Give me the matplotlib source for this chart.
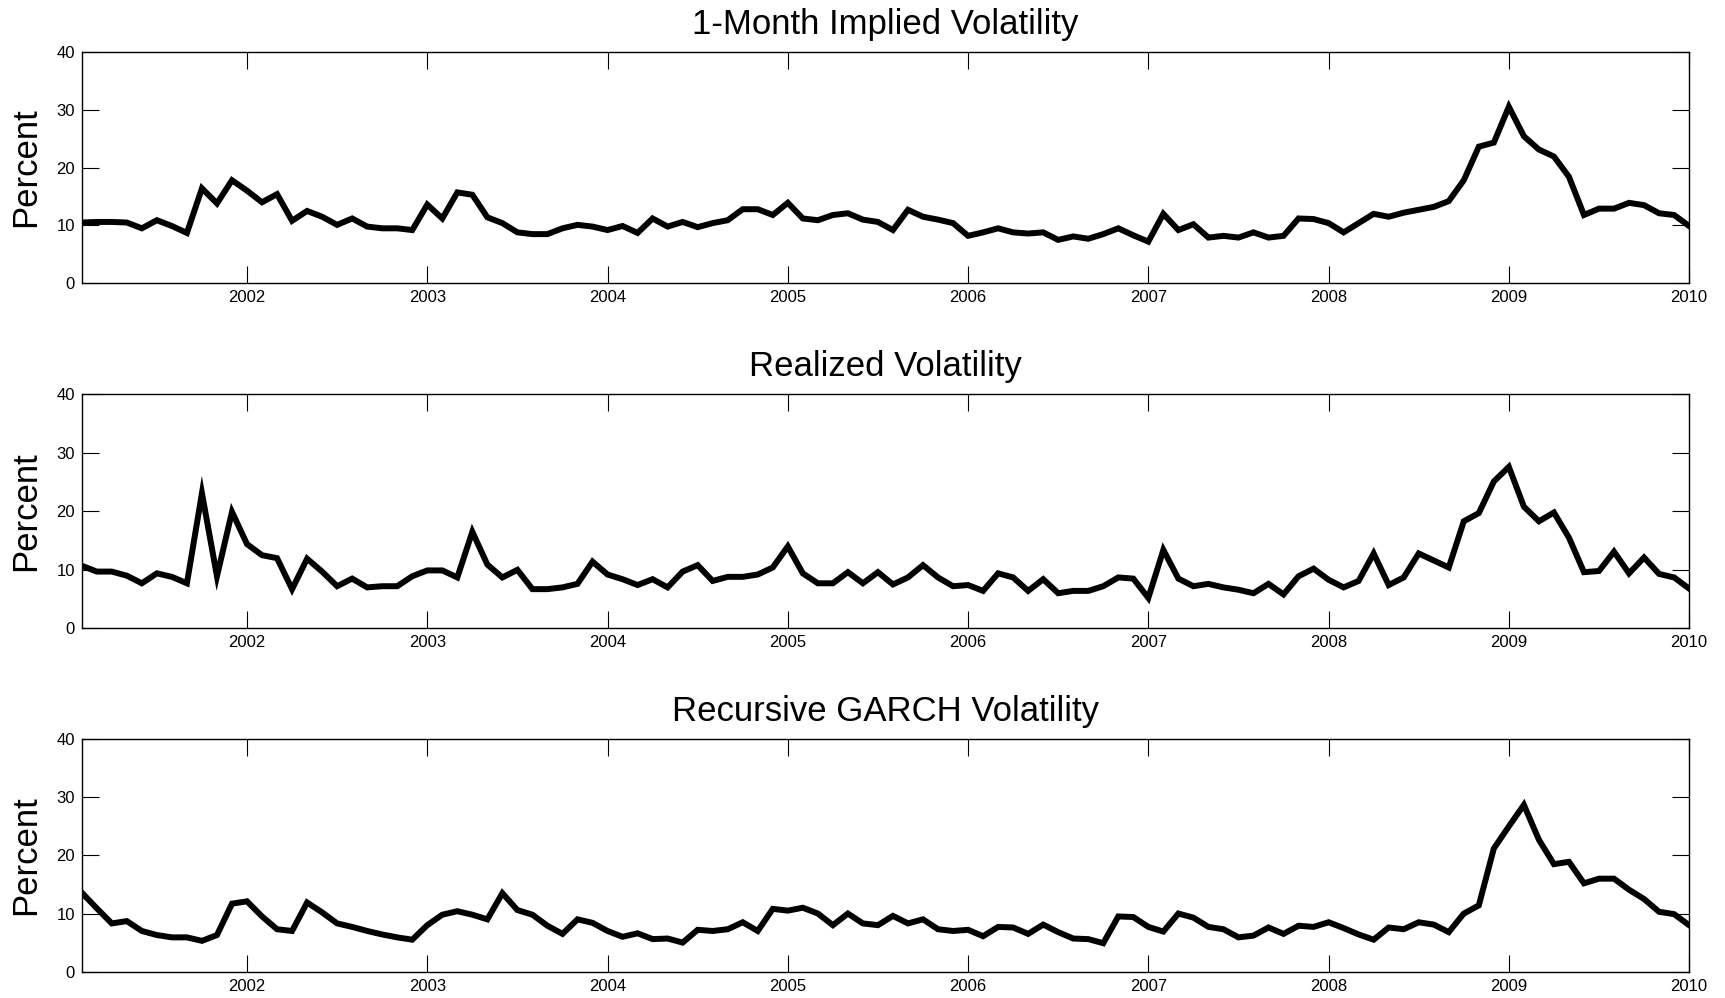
import numpy as np
import matplotlib.pyplot as plt

plt.rcParams['font.family'] = ['Liberation Sans', 'DejaVu Sans']

# monthly observations, Feb 2001 .. Jan 2010
dates = 2001 + np.arange(1, 109) / 12.0

implied = [10.5, 10.6, 10.6, 10.5, 9.5, 10.9, 9.9, 8.7, 16.4, 13.8,
           17.8, 16.0, 14.0, 15.4, 10.8, 12.5, 11.5, 10.1, 11.2, 9.8,
           9.5, 9.5, 9.2, 13.6, 11.2, 15.7, 15.3, 11.4, 10.4, 8.8,
           8.5, 8.5, 9.5, 10.1, 9.8, 9.2, 9.9, 8.7, 11.2, 9.8,
           10.6, 9.7, 10.4, 10.9, 12.8, 12.8, 11.8, 13.9, 11.2, 10.9,
           11.8, 12.1, 11.0, 10.6, 9.2, 12.7, 11.5, 11.0, 10.4, 8.2,
           8.8, 9.5, 8.8, 8.6, 8.8, 7.5, 8.1, 7.7, 8.5, 9.5,
           8.3, 7.2, 12.0, 9.2, 10.2, 7.9, 8.2, 7.9, 8.8, 7.9,
           8.2, 11.2, 11.1, 10.4, 8.8, 10.4, 12.0, 11.5, 12.2, 12.7,
           13.2, 14.2, 17.8, 23.6, 24.3, 30.5, 25.4, 23.1, 21.9, 18.4,
           11.8, 12.9, 12.9, 13.9, 13.5, 12.1, 11.8, 9.9]

realized = [10.7, 9.7, 9.7, 9.0, 7.7, 9.4, 8.8, 7.7, 23.1, 8.9,
            19.9, 14.4, 12.5, 12.0, 6.7, 11.9, 9.7, 7.2, 8.5, 7.0,
            7.2, 7.2, 8.9, 9.9, 9.9, 8.7, 16.5, 10.9, 8.7, 10.0,
            6.7, 6.7, 7.0, 7.6, 11.4, 9.2, 8.4, 7.4, 8.4, 7.0,
            9.7, 10.8, 8.1, 8.8, 8.8, 9.2, 10.4, 14.0, 9.4, 7.7,
            7.7, 9.6, 7.7, 9.6, 7.5, 8.7, 10.8, 8.7, 7.2, 7.4,
            6.4, 9.4, 8.7, 6.4, 8.4, 6.0, 6.4, 6.4, 7.2, 8.7,
            8.5, 5.2, 13.4, 8.5, 7.2, 7.6, 7.0, 6.6, 6.0, 7.6,
            5.8, 8.9, 10.2, 8.3, 7.0, 8.1, 12.8, 7.4, 8.7, 12.8,
            11.6, 10.4, 18.3, 19.7, 25.1, 27.6, 20.8, 18.3, 19.8, 15.5,
            9.6, 9.8, 13.1, 9.4, 12.1, 9.3, 8.7, 6.8]

garch = [13.6, 10.9, 8.3, 8.7, 7.0, 6.3, 5.9, 5.9, 5.3, 6.3,
         11.7, 12.1, 9.5, 7.3, 7.0, 11.9, 10.2, 8.3, 7.7, 7.0,
         6.4, 5.9, 5.5, 8.0, 9.8, 10.4, 9.8, 9.0, 13.5, 10.6,
         9.8, 7.9, 6.5, 9.0, 8.4, 7.0, 6.0, 6.6, 5.6, 5.7,
         5.0, 7.2, 7.0, 7.3, 8.5, 7.0, 10.8, 10.5, 11.0, 10.0,
         8.0, 10.0, 8.3, 8.0, 9.6, 8.3, 9.0, 7.3, 7.0, 7.2,
         6.1, 7.7, 7.6, 6.5, 8.1, 6.8, 5.7, 5.6, 4.9, 9.5,
         9.4, 7.7, 6.9, 10.0, 9.3, 7.7, 7.3, 5.9, 6.2, 7.6,
         6.5, 7.9, 7.7, 8.5, 7.5, 6.4, 5.5, 7.6, 7.3, 8.5,
         8.1, 6.8, 10.0, 11.4, 21.2, 25.0, 28.7, 22.7, 18.5, 18.9,
         15.2, 16.0, 16.0, 14.1, 12.5, 10.3, 9.9, 8.0]

titles = ['1-Month Implied Volatility', 'Realized Volatility',
          'Recursive GARCH Volatility']
series = [implied, realized, garch]
years = list(range(2002, 2011))

fig = plt.figure(figsize=(17.25, 9.98), dpi=100)
boxes = [[0.0474, 0.7161, 0.9318, 0.2321],
         [0.0474, 0.3704, 0.9318, 0.2345],
         [0.0474, 0.0264, 0.9318, 0.2329]]

for box, t, s in zip(boxes, titles, series):
    ax = fig.add_axes(box)
    ax.plot(dates, s, color='black', lw=4.3, solid_joinstyle='miter')
    ax.set_xlim(2001 + 1/12, 2010)
    ax.set_ylim(0, 40)
    ax.set_xticks(years)
    ax.set_yticks([0, 10, 20, 30, 40])
    ax.tick_params(direction='in', length=12, width=0.8, top=True, right=True,
                   labelsize=12, pad=5)
    for sp in ax.spines.values():
        sp.set_linewidth(1.0)
    ax.set_ylabel('Percent', fontsize=25, labelpad=10)
    ax.set_title(t, fontsize=25, pad=13)

fig.savefig('out.png', dpi=100)
